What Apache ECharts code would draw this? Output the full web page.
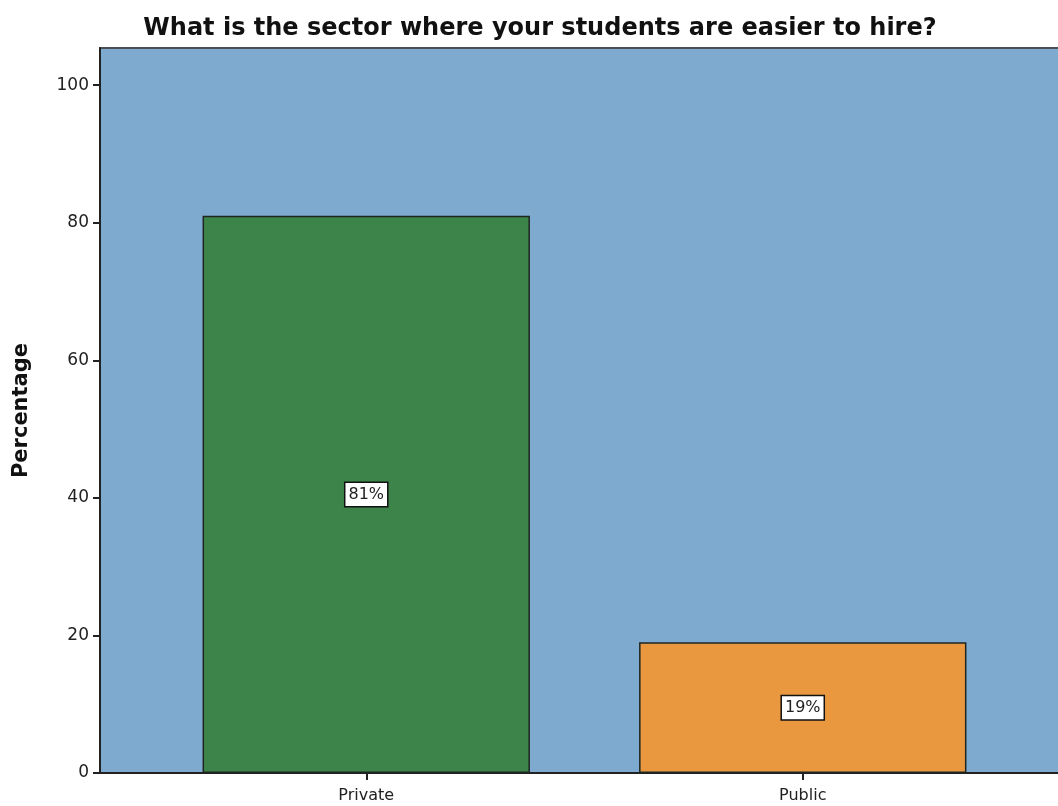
<!DOCTYPE html>
<html>
<head>
<meta charset="utf-8">
<script src="https://cdn.jsdelivr.net/npm/echarts@6/dist/echarts.min.js"></script>
<style>
  html, body { margin: 0; padding: 0; background: #ffffff; }
  #chart { width: 1058px; height: 806px; }
</style>
</head>
<body>
<div id="chart"></div>
<script>
// Survey answers: share of respondents per sector
const categories = ['Private', 'Public'];
const percentages = [81, 19];
const barColors = ['#3d844a', '#e99840'];
const yTicks = [0, 20, 40, 60, 80, 100];

const chart = echarts.init(document.getElementById('chart'));

const plotLeft = 100, plotTop = 48, plotBottom = 773, plotRight = 1058;

chart.setOption({
  animation: false,
  title: {
    text: 'What is the sector where your students are easier to hire?',
    left: 535,
    textAlign: 'center',
    top: 12,
    textStyle: { fontFamily: 'DejaVu Sans', fontWeight: 'bold', fontSize: 24, color: '#111' }
  },
  grid: { left: 148, right: 37, top: plotTop, bottom: 806 - plotBottom, containLabel: false },
  graphic: [
    {
      type: 'rect', z: -10, silent: true,
      shape: { x: plotLeft, y: plotTop, width: plotRight - plotLeft + 5, height: plotBottom - plotTop },
      style: { fill: '#7faacf', stroke: '#4a4f55', lineWidth: 2 }
    },
    {
      type: 'line', z: 1, silent: true,
      shape: { x1: plotLeft, y1: plotBottom, x2: plotRight, y2: plotBottom },
      style: { stroke: '#222', lineWidth: 2 }
    }
  ],
  xAxis: {
    type: 'category',
    data: categories,
    axisLine: { show: true, lineStyle: { color: '#222', width: 2 } },
    axisTick: { show: true, alignWithLabel: true, length: 7, lineStyle: { color: '#222', width: 2 } },
    axisLabel: { fontFamily: 'DejaVu Sans', fontSize: 16, color: '#222', margin: 15 }
  },
  yAxis: {
    type: 'value',
    min: 0,
    max: 105.4,
    interval: 20,
    offset: 48,
    name: 'Percentage',
    nameLocation: 'middle',
    nameGap: 68,
    nameTextStyle: { fontFamily: 'DejaVu Sans', fontWeight: 'bold', fontSize: 21, color: '#111' },
    splitLine: { show: false },
    axisLine: { show: true, lineStyle: { color: '#222', width: 2 } },
    axisTick: { show: true, length: 7, customValues: yTicks, lineStyle: { color: '#222', width: 2 } },
    axisLabel: { fontFamily: 'DejaVu Sans', fontSize: 17, color: '#222', margin: 11, customValues: yTicks }
  },
  series: [{
    type: 'bar',
    barCategoryGap: '25%',
    data: percentages.map((v, i) => ({ value: v, itemStyle: { color: barColors[i] } })),
    itemStyle: { borderColor: '#1e2622', borderWidth: 1.5 },
    label: {
      show: true,
      position: 'inside',
      formatter: '{c}%',
      fontFamily: 'DejaVu Sans',
      fontSize: 16,
      color: '#222',
      backgroundColor: '#ffffff',
      borderColor: '#111',
      borderWidth: 1.5,
      padding: [4, 3, 3, 3]
    }
  }]
});
</script>
</body>
</html>
